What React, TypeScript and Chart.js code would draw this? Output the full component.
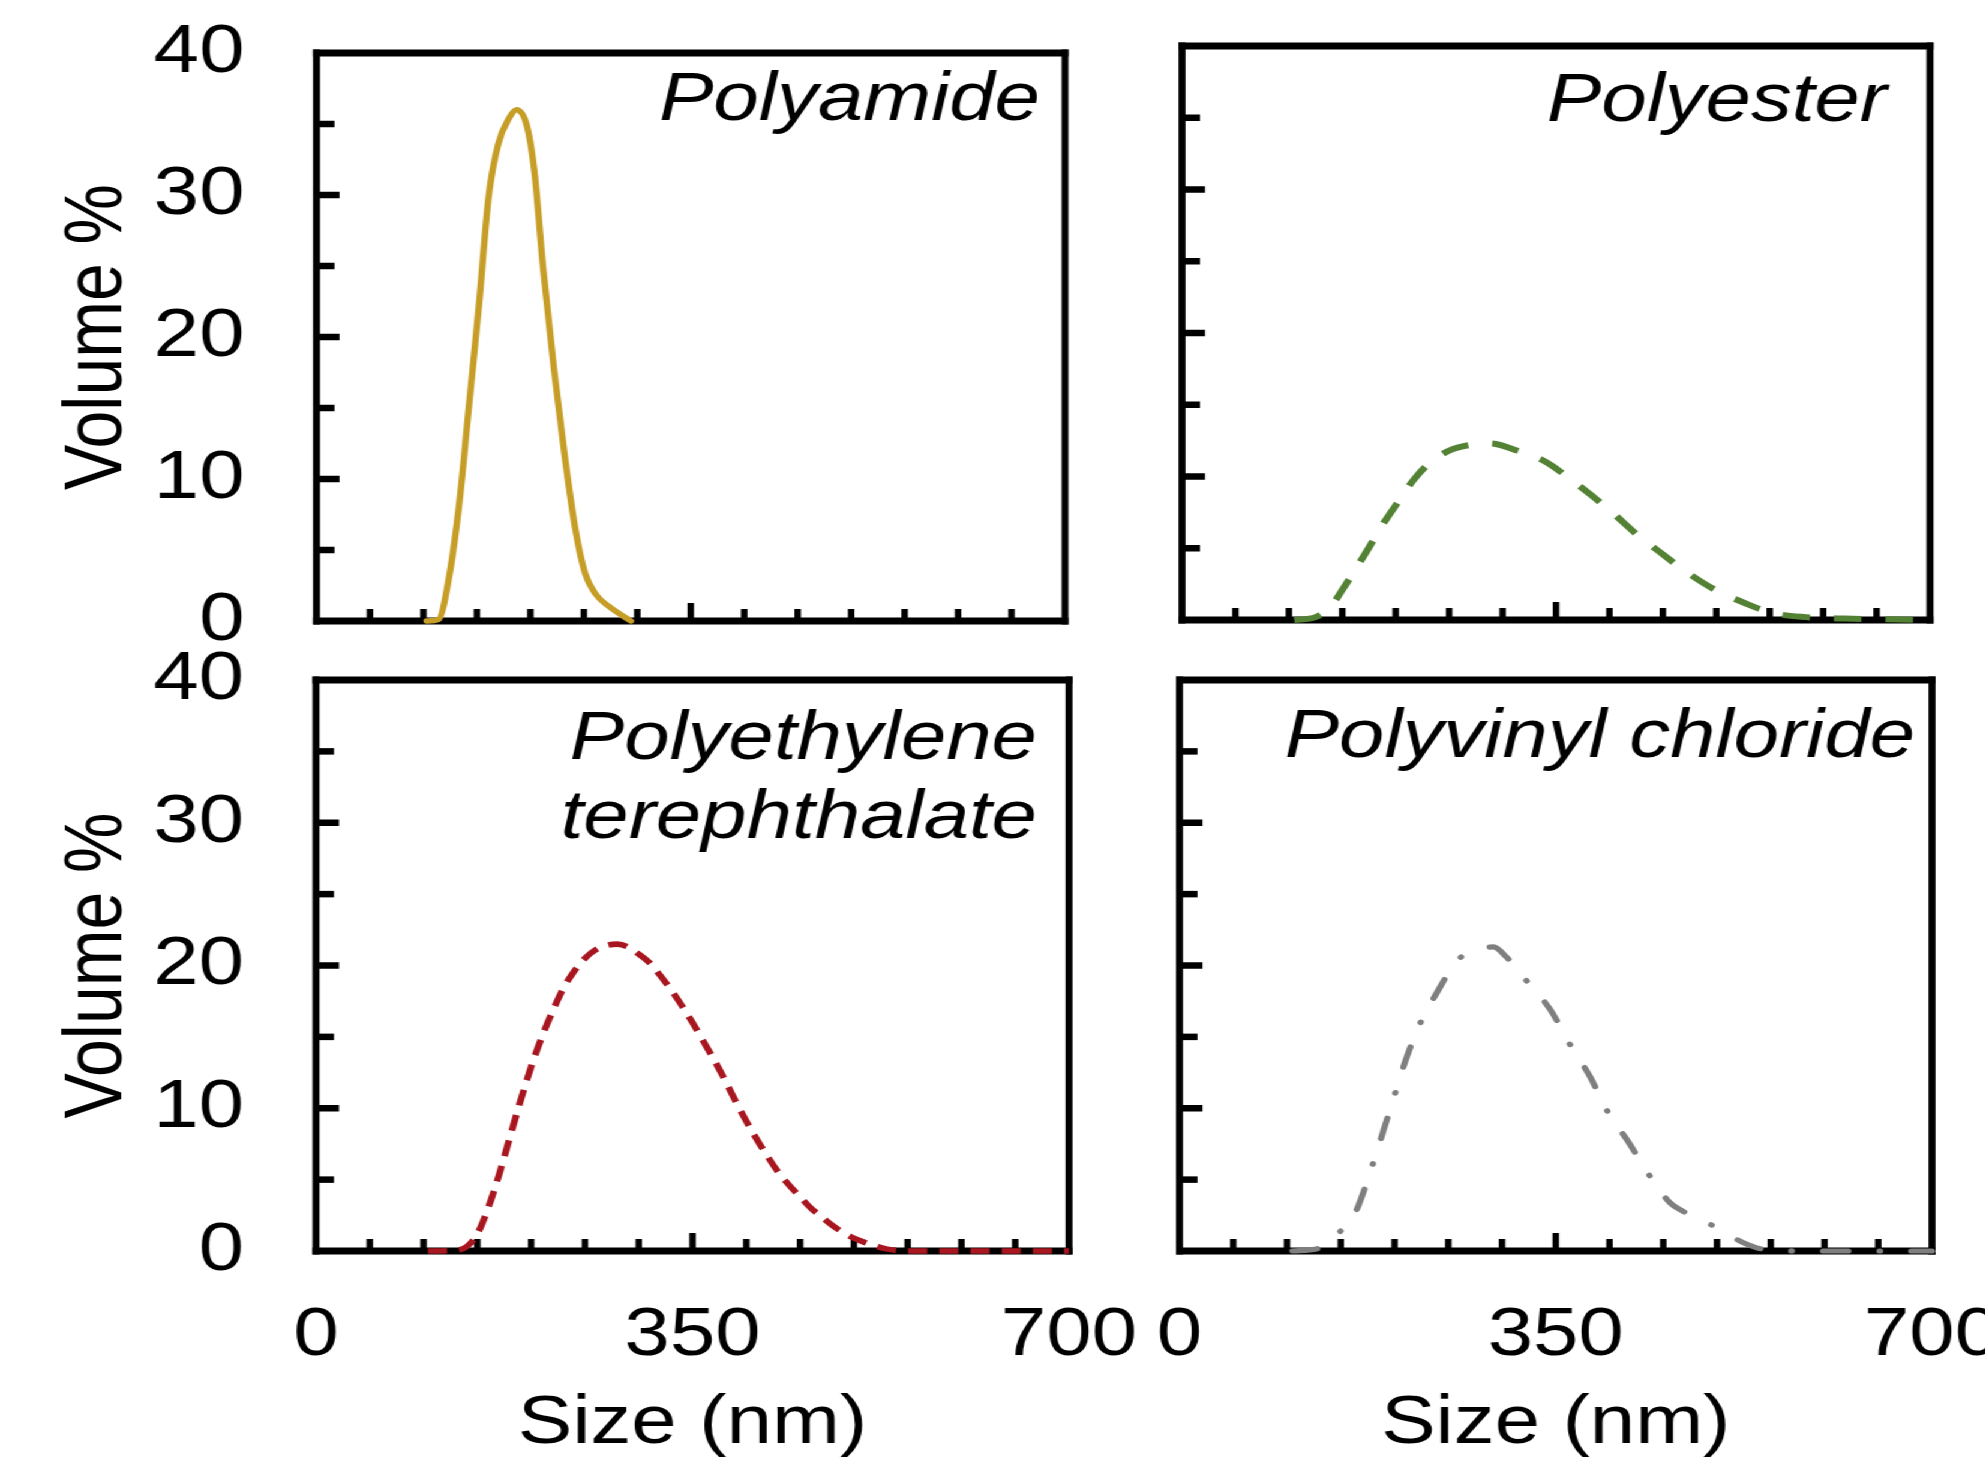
import React, { useEffect, useRef } from "react";
import { Chart, registerables } from "chart.js";

Chart.register(...registerables);

// ---------------- data ----------------
const polyamideSize = [103, 114, 124, 134, 142, 152, 161, 170, 180, 187, 197, 204, 212, 222, 232, 242, 251, 261, 274, 294];
const polyamideVolume = [0, 0.1, 3.1, 8.6, 14.7, 22.3, 29.9, 33.6, 35.4, 36.0, 34.8, 31.5, 24.8, 17.8, 11.7, 6.5, 3.4, 1.9, 1.0, 0];

const polyesterSize = [105, 125, 140, 150, 163, 177, 190, 202, 216, 231, 250, 270, 288, 314, 341, 362, 383, 404, 425, 446, 473, 499, 526, 552, 584, 620, 660, 700];
const polyesterVolume = [0, 0.2, 1.0, 2.1, 3.6, 5.3, 6.9, 8.2, 9.7, 10.9, 11.8, 12.2, 12.3, 11.8, 11.0, 9.9, 8.7, 7.4, 6.0, 4.8, 3.3, 2.1, 1.2, 0.5, 0.2, 0.1, 0.05, 0];

const petSize = [104, 130, 140, 150, 160, 170, 180, 190, 200, 210, 220, 230, 240, 250, 260, 270, 280, 290, 300, 310, 320, 330, 340, 350, 360, 370, 380, 390, 400, 410, 420, 430, 440, 450, 460, 470, 480, 490, 500, 510, 520, 530, 540, 550, 600, 650, 700];
const petVolume = [0, 0.05, 0.3, 1.2, 3.0, 5.3, 7.9, 10.5, 12.9, 15.0, 16.8, 18.4, 19.6, 20.5, 21.1, 21.4, 21.5, 21.3, 20.8, 20.2, 19.3, 18.3, 17.2, 16.0, 14.7, 13.4, 12.0, 10.5, 9.1, 7.8, 6.6, 5.5, 4.6, 3.8, 3.0, 2.4, 1.8, 1.3, 0.9, 0.6, 0.35, 0.15, 0.05, 0, 0, 0, 0];

const pvcSize = [105, 130, 147, 163, 179, 190, 200, 211, 223, 241, 259, 275, 292, 304, 322, 345, 363, 382, 398, 417, 438, 456, 468, 482, 498, 524, 545, 580, 620, 660, 700];
const pvcVolume = [0, 0.2, 1.2, 2.6, 5.9, 8.5, 10.9, 13.5, 15.8, 18.3, 20.4, 21.0, 21.3, 20.6, 19.0, 16.9, 14.5, 12.2, 9.8, 7.7, 5.2, 3.4, 2.8, 2.3, 1.7, 0.6, 0.1, 0, 0, 0, 0];

const xTickLabels = [0, 350, 700];
const yTickLabels = [0, 10, 20, 30, 40];
const xAxisTitle = "Size (nm)";
const yAxisTitle = "Volume %";

// ---------------- layout / style ----------------
const SX = 1.2; // the figure is stretched horizontally
const PAGE_W = 1985;
const PAGE_H = 1457;
const CW = 1760; // canvas width in unstretched units
const CH = 1500;
const FAMILY = '"Liberation Sans", Arial, Helvetica, sans-serif';
const FS = 68;
const FRAME_W = 7;
const TICK_W = 6.5;

type Panel = {
  key: string;
  title: string[];
  sizes: number[];
  volumes: number[];
  color: string;
  width: number;
  dash: number[];
  cap: CanvasLineCap;
  box: { l: number; r: number; t: number; b: number }; // page px
  showY: boolean;
  showX: boolean;
  titleRight: number; // page px from box right
  titleBase: number[]; // page px from box top
};

const panels: Panel[] = [
  {
    key: "pa",
    title: ["Polyamide"],
    sizes: polyamideSize,
    volumes: polyamideVolume,
    color: "#C69D26",
    width: 5.4,
    dash: [],
    cap: "round",
    box: { l: 316.5, r: 1065, t: 53, b: 621 },
    showY: true,
    showX: false,
    titleRight: 25,
    titleBase: [67],
  },
  {
    key: "pe",
    title: ["Polyester"],
    sizes: polyesterSize,
    volumes: polyesterVolume,
    color: "#548235",
    width: 6,
    dash: [23, 20],
    cap: "butt",
    box: { l: 1182, r: 1930, t: 46, b: 620 },
    showY: false,
    showX: false,
    titleRight: 43,
    titleBase: [74.5],
  },
  {
    key: "pet",
    title: ["Polyethylene", "terephthalate"],
    sizes: petSize,
    volumes: petVolume,
    color: "#A8161F",
    width: 5.6,
    dash: [16, 10],
    cap: "butt",
    box: { l: 316, r: 1069, t: 680, b: 1251 },
    showY: true,
    showX: true,
    titleRight: 32,
    titleBase: [79, 158],
  },
  {
    key: "pvc",
    title: ["Polyvinyl chloride"],
    sizes: pvcSize,
    volumes: pvcVolume,
    color: "#7F7F7F",
    width: 5.2,
    dash: [21, 26, 0.5, 26],
    cap: "round",
    box: { l: 1179.5, r: 1932, t: 680, b: 1251 },
    showY: false,
    showX: true,
    titleRight: 17,
    titleBase: [77],
  },
];

function makePlugin(p: Panel) {
  return {
    id: "frame_" + p.key,
    beforeDatasetsDraw(chart: any) {
      const { ctx, chartArea: ca, scales } = chart;
      const xs = scales.x;
      const ys = scales.y;
      ctx.save();
      ctx.fillStyle = "#000";
      const lv = FRAME_W / SX;
      const lh = FRAME_W;
      const w = ca.right - ca.left;
      const h = ca.bottom - ca.top;
      ctx.fillRect(ca.left - lv / 2, ca.top - lh / 2, w + lv, lh);
      ctx.fillRect(ca.left - lv / 2, ca.bottom - lh / 2, w + lv, lh);
      ctx.fillRect(ca.left - lv / 2, ca.top - lh / 2, lv, h + lh);
      ctx.fillRect(ca.right - lv / 2, ca.top - lh / 2, lv, h + lh);
      // y ticks (inside)
      for (let v = 5; v < 40; v += 5) {
        const py = ys.getPixelForValue(v);
        const len = (v % 10 === 0 ? 23 : 18) / SX;
        ctx.fillRect(ca.left, py - TICK_W / 2, len, TICK_W);
      }
      // x ticks (inside)
      for (let v = 50; v < 700; v += 50) {
        const px = xs.getPixelForValue(v);
        const len = v === 350 ? 18 : 12;
        const tw = TICK_W / SX;
        ctx.fillRect(px - tw / 2, ca.bottom - len, tw, len);
      }
      ctx.restore();
    },
    afterDatasetsDraw(chart: any) {
      const { ctx, chartArea: ca } = chart;
      ctx.save();
      ctx.fillStyle = "#000";
      ctx.font = `italic ${FS}px ${FAMILY}`;
      ctx.textAlign = "right";
      ctx.textBaseline = "alphabetic";
      p.title.forEach((line, i) => {
        ctx.fillText(line, ca.right - p.titleRight / SX, ca.top + p.titleBase[i]);
      });
      ctx.restore();
    },
  };
}

function makeChart(canvas: HTMLCanvasElement, p: Panel) {
  const lu = p.box.l / SX;
  const ru = p.box.r / SX;
  const lineH = FS * 1.2;
  const yTitleMid = 82.2; // unstretched x of the rotated title's middle
  const wY = p.showY ? lu + lineH / 2 - yTitleMid : 0;
  const hX = p.showX ? 214 : 0;
  const font = { family: FAMILY, size: FS };
  return new Chart(canvas, {
    type: "line",
    data: {
      datasets: [
        {
          data: p.sizes.map((s, i) => ({ x: s, y: p.volumes[i] })),
          borderColor: p.color,
          borderWidth: p.width,
          borderDash: p.dash,
          borderCapStyle: p.cap,
          pointRadius: 0,
          fill: false,
          cubicInterpolationMode: "monotone",
          clip: false,
        } as any,
      ],
    },
    options: {
      animation: false,
      responsive: false,
      events: [],
      layout: {
        padding: {
          left: lu - wY,
          right: CW - ru,
          top: p.box.t,
          bottom: CH - p.box.b - hX,
        },
      },
      plugins: {
        legend: { display: false },
        tooltip: { enabled: false },
        title: { display: false },
      },
      scales: {
        x: {
          type: "linear",
          min: 0,
          max: 700,
          afterBuildTicks: (scale: any) => {
            scale.ticks = xTickLabels.map((v) => ({ value: v }));
          },
          afterFit: (scale: any) => {
            scale.height = hX;
          },
          grid: { display: false, drawTicks: true, tickLength: 44 },
          border: { display: false },
          ticks: {
            display: p.showX,
            font,
            color: "#000",
            padding: 0,
            maxRotation: 0,
            minRotation: 0,
            autoSkip: false,
            callback: (v: any) => String(v),
          },
          title: {
            display: p.showX,
            text: xAxisTitle,
            font,
            color: "#000",
            padding: 0,
          },
        },
        y: {
          type: "linear",
          min: 0,
          max: 40,
          afterBuildTicks: (scale: any) => {
            scale.ticks = yTickLabels.map((v) => ({ value: v }));
          },
          afterFit: (scale: any) => {
            scale.width = wY;
          },
          grid: { display: false, drawTicks: true, tickLength: 60 },
          border: { display: false },
          ticks: {
            display: p.showY,
            font,
            color: "#000",
            padding: 0,
            callback: (v: any) => String(v),
          },
          title: {
            display: p.showY,
            text: yAxisTitle,
            font,
            color: "#000",
            padding: 0,
          },
        },
      },
    } as any,
    plugins: [makePlugin(p)],
  });
}

export default function App() {
  const refs = useRef<(HTMLCanvasElement | null)[]>([]);

  useEffect(() => {
    const charts: Chart[] = [];
    panels.forEach((p, i) => {
      const c = refs.current[i];
      if (c) charts.push(makeChart(c, p));
    });
    return () => {
      charts.forEach((c) => c.destroy());
    };
  }, []);

  return (
    <div
      style={{
        position: "absolute",
        left: 0,
        top: 0,
        width: PAGE_W,
        height: PAGE_H,
        overflow: "hidden",
        background: "#fff",
      }}
    >
      <div
        style={{
          position: "absolute",
          left: 0,
          top: 0,
          width: CW,
          height: CH,
          transform: `scaleX(${SX})`,
          transformOrigin: "0 0",
        }}
      >
        {panels.map((p, i) => (
          <canvas
            key={p.key}
            ref={(el) => {
              refs.current[i] = el;
            }}
            width={CW}
            height={CH}
            style={{ position: "absolute", left: 0, top: 0, width: CW, height: CH }}
          />
        ))}
      </div>
    </div>
  );
}
